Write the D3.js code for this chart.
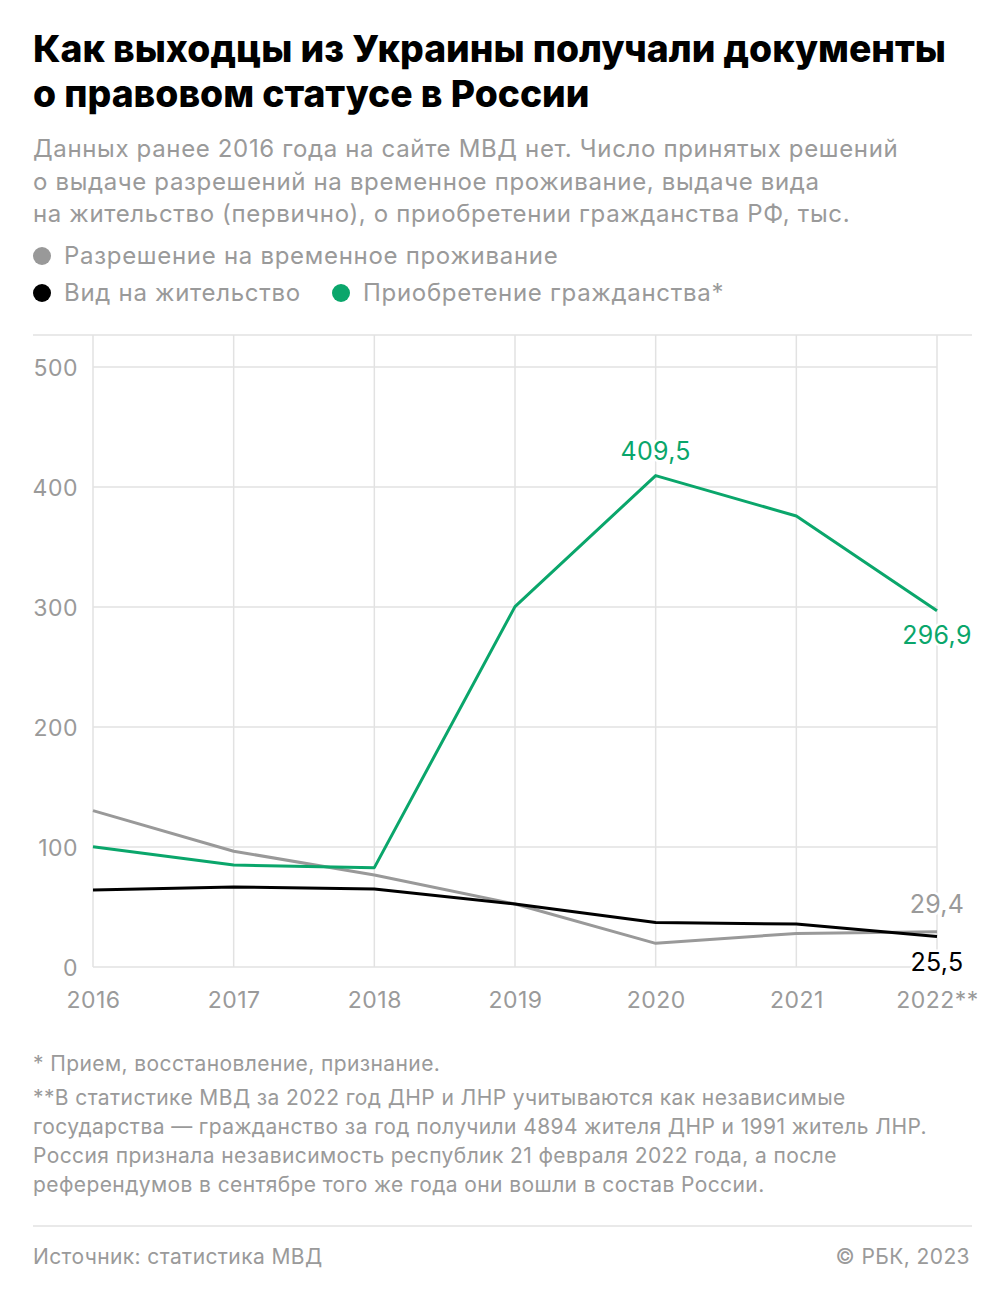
<!DOCTYPE html>
<html><head><meta charset="utf-8">
<script src="https://cdn.jsdelivr.net/npm/d3@7"></script>
<style>body{margin:0;background:#fff;} svg{display:block;font-family:Inter, "Noto Sans", sans-serif;}</style>
</head><body>
<svg id="c" width="1005" height="1298"></svg>
<script>
const years = ["2016","2017","2018","2019","2020","2021","2022**"];
const tempResidence = [130.3, 96.5, 76.7, 52.5, 19.7, 28.0, 29.4];
const residencePermit = [64.2, 66.7, 65.0, 52.5, 37.0, 35.8, 25.5];
const citizenship = [100.3, 85.0, 82.8, 300.3, 409.5, 375.8, 296.9];
const yTicks = [0, 100, 200, 300, 400, 500];
const seriesNames = ["Разрешение на временное проживание", "Вид на жительство", "Приобретение гражданства*"];
const colors = ["#999999", "#000000", "#0aa66b"];

const svg = d3.select("#c");
const gray = "#9a9a9a";

// Title
svg.append("text").attr("x",33).attr("y",62).attr("font-size",37.3).attr("font-weight",800).attr("fill","#000").text("Как выходцы из Украины получали документы");
svg.append("text").attr("x",33).attr("y",107).attr("font-size",37.3).attr("font-weight",800).attr("fill","#000").text("о правовом статусе в России");

const sub = ["Данных ранее 2016 года на сайте МВД нет. Число принятых решений",
 "о выдаче разрешений на временное проживание, выдаче вида",
 "на жительство (первично), о приобретении гражданства РФ, тыс."];
sub.forEach((s,i)=>svg.append("text").attr("x",33).attr("y",157+i*32.5).attr("font-size",24).attr("letter-spacing",0.65).attr("fill",gray).text(s));

// Legend
const leg = [{x:42,y:256,i:0},{x:42,y:293,i:1},{x:341,y:293,i:2}];
leg.forEach(l=>{
  svg.append("circle").attr("cx",l.x).attr("cy",l.y).attr("r",9).attr("fill",colors[l.i]);
  svg.append("text").attr("x",l.x+22).attr("y",l.y+8).attr("font-size",24).attr("letter-spacing",0.7).attr("fill",gray).text(seriesNames[l.i]);
});

svg.append("line").attr("x1",33).attr("x2",972).attr("y1",335).attr("y2",335).attr("stroke","#e2e2e2").attr("stroke-width",1.5);

const x = d3.scalePoint().domain(years).range([93,937]);
const y = d3.scaleLinear().domain([0,500]).range([967,367]);

const grid = svg.append("g");
years.forEach(yr=>grid.append("line").attr("x1",x(yr)).attr("x2",x(yr)).attr("y1",335).attr("y2",967).attr("stroke","#e2e2e2").attr("stroke-width",1.5));
yTicks.forEach(t=>grid.append("line").attr("x1",93).attr("x2",937).attr("y1",y(t)).attr("y2",y(t)).attr("stroke","#e2e2e2").attr("stroke-width",1.5));

// Axes via d3
const yAxis = svg.append("g").attr("transform","translate(78,0)").call(d3.axisLeft(y).tickValues(yTicks).tickSize(0).tickPadding(0));
yAxis.select(".domain").remove();
yAxis.selectAll("text").attr("font-size",23).attr("letter-spacing",0.5).attr("fill",gray).attr("font-family","Inter, sans-serif").attr("dy","0.36em");

const xAxis = svg.append("g").attr("transform","translate(0,992)").call(d3.axisBottom(x).tickSize(0).tickPadding(0));
xAxis.select(".domain").remove();
xAxis.selectAll("text").attr("font-size",23).attr("letter-spacing",0.5).attr("fill",gray).attr("font-family","Inter, sans-serif").attr("dy","0.7em");

const line = d3.line().x((d,i)=>x(years[i])).y(d=>y(d));
[[tempResidence,0],[residencePermit,1],[citizenship,2]].forEach(([data,i])=>{
  svg.append("path").attr("d",line(data)).attr("fill","none").attr("stroke",colors[i]).attr("stroke-width",3).attr("stroke-linejoin","round");
});

// value labels
function lab(val, yr, dy, color){
  svg.append("text").attr("x",x(yr)).attr("y",y(val)+dy).attr("text-anchor","middle").attr("font-size",25).attr("letter-spacing",0.3).attr("fill",color)
    .attr("stroke","#fff").attr("stroke-width",5).attr("paint-order","stroke").attr("stroke-linejoin","round")
    .text(String(val).replace(".",","));
}
lab(citizenship[4], years[4], -16, colors[2]);
lab(citizenship[6], years[6], 33, colors[2]);
lab(tempResidence[6], years[6], -19, gray);
lab(residencePermit[6], years[6], 35, "#000");

// footnotes
const notes = ["* Прием, восстановление, признание.",
"**В статистике МВД за 2022 год ДНР и ЛНР учитываются как независимые",
"государства — гражданство за год получили 4894 жителя ДНР и 1991 житель ЛНР.",
"Россия признала независимость республик 21 февраля 2022 года, а после",
"референдумов в сентябре того же года они вошли в состав России."];
const ny = [1071, 1105, 1134, 1163, 1192];
notes.forEach((n,i)=>svg.append("text").attr("x",33).attr("y",ny[i]).attr("font-size",21).attr("letter-spacing",0.4).attr("fill",gray).text(n));

svg.append("line").attr("x1",33).attr("x2",972).attr("y1",1226).attr("y2",1226).attr("stroke","#e2e2e2").attr("stroke-width",1.5);
svg.append("text").attr("x",33).attr("y",1264).attr("font-size",21).attr("letter-spacing",0.4).attr("fill",gray).text("Источник: статистика МВД");
svg.append("text").attr("x",970).attr("y",1264).attr("font-size",21).attr("letter-spacing",0.4).attr("fill",gray).attr("text-anchor","end").text("© РБК, 2023");
</script>
</body></html>
